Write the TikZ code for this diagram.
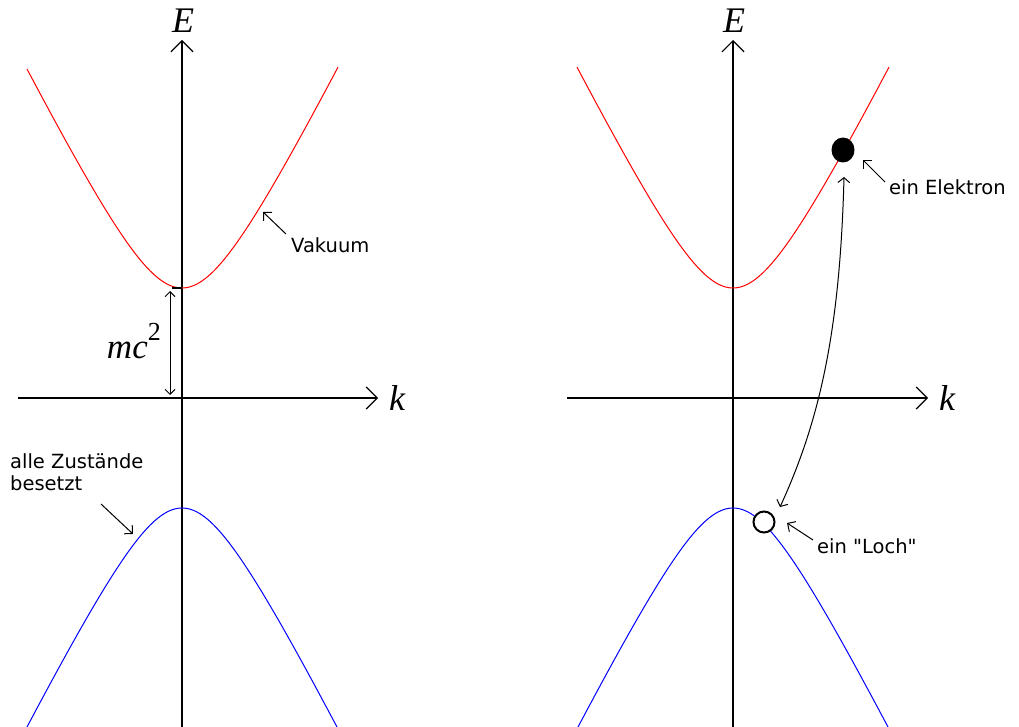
\documentclass[tikz,border=0pt]{standalone}
\usepackage{fontspec}
\setmainfont{Liberation Serif}
\newfontfamily\labfont{DejaVu Sans}
\usetikzlibrary{arrows.meta,shapes.geometric}
\tikzset{
  axis/.style={line width=1.2pt,-{Straight Barb[length=11pt,width=22pt]}},
  lbl/.style={font=\labfont\fontsize{19.5}{22}\selectfont,anchor=base west,inner sep=0pt,align=left},
  mathlbl/.style={font=\fontsize{36}{36}\selectfont\itshape,inner sep=0pt},
  pointer/.style={line width=1pt,-{Straight Barb[length=6pt,width=12pt]}},
  band/.style={line width=1pt},
}
\begin{document}
\begin{tikzpicture}[x=1pt,y=-1pt]
\useasboundingbox (0,0) rectangle (1019,727);
% ---------- left panel ----------
\coordinate (LyB) at (182,727); \coordinate (LyT) at (182,40);
\coordinate (LxL) at (18,398);  \coordinate (LxR) at (378,398);
\draw[axis] (LxL) -- (LxR);
\draw[axis] (LyB) -- (LyT);
\node[mathlbl] (LE) at (183,21) {E};
\node[mathlbl,anchor=west] (Lk) at (389,398) {k};
\begin{scope}
\clip (0,0) rectangle (1019,727);
\draw[band,red] plot[domain=-155:156,samples=120] ({182+\x},{398-100*sqrt(1.21+(0.02*\x)^2)});
\draw[band,blue] plot[domain=-156:157,samples=120] ({182+\x},{398+100*sqrt(1.21+(0.02*\x)^2)});
\end{scope}
\coordinate (tickL) at (172,288); \coordinate (tickR) at (182,288);
\draw[line width=1.5pt] (tickL) -- (tickR);
\coordinate (mcT) at (170,291); \coordinate (mcB) at (170,395);
\draw[line width=1pt,{Straight Barb[length=5pt,width=10pt]}-{Straight Barb[length=5pt,width=10pt]}] (mcT) -- (mcB);
\node[font=\fontsize{35}{35}\selectfont,inner sep=0pt,anchor=base east] (mc) at (161,358) {\textit{mc}\raisebox{18pt}{\fontsize{26}{26}\selectfont 2}};
\node[lbl] (vak) at (291,253) {Vakuum};
\coordinate (vakT) at (286,234); \coordinate (vakH) at (263,212);
\draw[pointer] (vakT) -- (vakH);
\node[lbl] (alle) at (10,490) {alle Zustände\\besetzt};
\coordinate (alleT) at (101,504); \coordinate (alleH) at (133,534);
\draw[pointer] (alleT) -- (alleH);
% ---------- right panel ----------
\coordinate (RyB) at (733,727); \coordinate (RyT) at (733,40);
\coordinate (RxL) at (567,398); \coordinate (RxR) at (928,398);
\draw[axis] (RxL) -- (RxR);
\draw[axis] (RyB) -- (RyT);
\node[mathlbl] (RE) at (734,21) {E};
\node[mathlbl,anchor=west] (Rk) at (939,398) {k};
\begin{scope}
\clip (0,0) rectangle (1019,727);
\draw[band,red] plot[domain=-156:156,samples=120] ({733+\x},{398-100*sqrt(1.21+(0.02*\x)^2)});
\draw[band,blue] plot[domain=-157:157,samples=120] ({733+\x},{398+100*sqrt(1.21+(0.02*\x)^2)});
\end{scope}
\node[fill=black,ellipse,minimum width=23pt,minimum height=25pt,inner sep=0pt] (el) at (843,150) {};
\node[draw=black,line width=2pt,fill=white,circle,minimum size=21pt,inner sep=0pt] (hole) at (764,522) {};
\coordinate (dT) at (844,177); \coordinate (dB) at (780,507);
\draw[line width=1pt,{Straight Barb[length=5pt,width=12pt]}-{Straight Barb[length=5pt,width=12pt]}] (dT) .. controls (840,330) and (820,420) .. (dB);
\node[lbl] (elek) at (889,195) {ein Elektron};
\coordinate (elT) at (885,182); \coordinate (elH) at (863,160);
\draw[pointer] (elT) -- (elH);
\node[lbl] (loch) at (817,553) {ein "Loch"};
\coordinate (loT) at (813,540); \coordinate (loH) at (787,523);
\draw[pointer] (loT) -- (loH);
\end{tikzpicture}
\end{document}
